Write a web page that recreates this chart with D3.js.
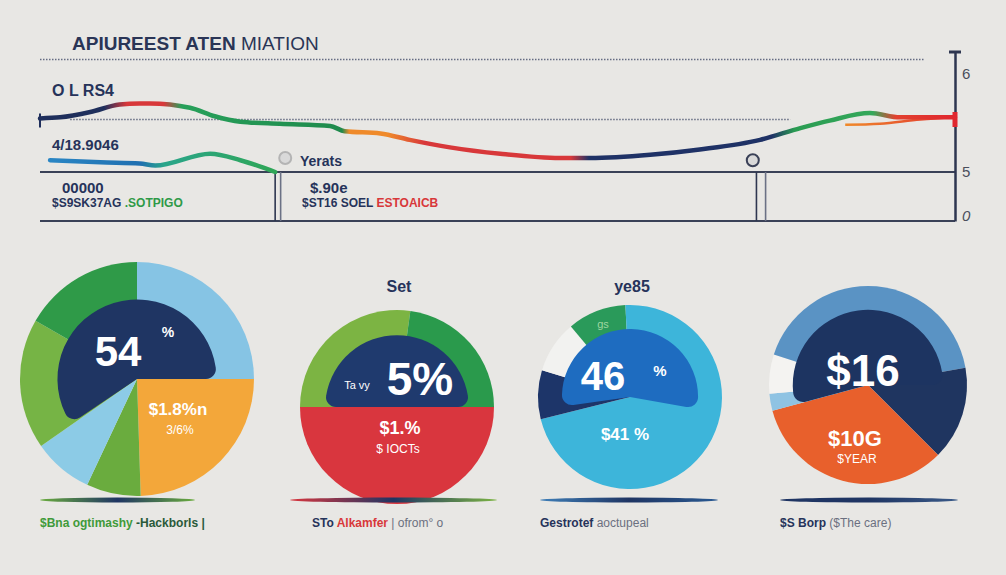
<!DOCTYPE html>
<meta charset='utf-8'>
<style>
    body {
        margin: 0;
        background: #e8e7e4;
    }
    text {
        font-family: 'Liberation Sans', Arial, sans-serif;
    }
</style>
<body>
<div id='container'></div>
<script src='https://cdn.jsdelivr.net/npm/d3@7'></script>
<script>
    // ---- top chart data ----
    const mainX = [ 0, 2.2, 5.5, 8.7, 10.9, 12, 16.4, 19.1, 21.9, 26.2, 31.7, 33.3, 37.2, 40.4, 44.8, 50.3, 56.8, 60.1, 66.7, 72.1, 78.7, 83.1, 86.3, 90.7, 94, 100 ];
    const mainY = [ 5.50, 5.51, 5.56, 5.63, 5.64, 5.64, 5.60, 5.52, 5.47, 5.45, 5.43, 5.38, 5.36, 5.30, 5.23, 5.17, 5.13, 5.13, 5.16, 5.21, 5.30, 5.41, 5.48, 5.55, 5.51, 5.51 ];
    const mainStops = [ 0, 7, 9.5, 13.5, 15.5, 33, 33.8, 38, 42, 58, 60, 80, 82.5, 91, 93.5, 100 ];
    const mainColors = [ '#1f2f5c', '#1f2f5c', '#d8383a', '#d8383a', '#27a05a', '#1f8a4c', '#ef8a2a', '#ef8a2a', '#d8383a', '#d8383a', '#1f3266', '#1f3266', '#2a9c52', '#34a85a', '#e2412f', '#e0272f' ];

    const lowX = [ 1.1, 6.6, 10.9, 12.6, 18.6, 21.9, 25.7 ];
    const lowY = [ 5.11, 5.09, 5.08, 5.06, 5.17, 5.11, 5.0 ];

    const accentX = [ 88, 91.8, 96.2, 100 ];
    const accentY = [ 5.44, 5.45, 5.49, 5.51 ];

    const gridValues = [ 6.05, 5.49 ];
    const gridFrom = [ 0, 3.3 ];
    const gridTo = [ 96.7, 82 ];
    const baseValues = [ 5, 0 ];
    const dividerX = [ 25.7, 26.3, 78.3, 79.3 ];
    const axisTicks = [ 6, 5, 0 ];

    // ---- pie data ----
    const pieValues = [
        [ 25, 24.5, 7.5, 8.3, 18, 16.7 ],
        [ 27.2, 22.8, 50 ],
        [ 71.1, 8.6, 9.2, 10.3, 0.8 ],
        [ 22.2, 15.3, 33.3, 2.8, 6.4, 20 ],
    ];
    const pieColors = [
        [ '#86c4e4', '#f3a73a', '#6aac3e', '#8ccbe6', '#76b445', '#2f9a48' ],
        [ '#7cb443', '#2a9a4c', '#d9363e' ],
        [ '#3db5da', '#1d3569', '#f2f2f0', '#2a9a5a', '#3db5da' ],
        [ '#5a93c4', '#1f3560', '#e8602c', '#8fc3e3', '#f4f3f1', '#5a93c4' ],
    ];
    const pieStartDeg = [ 0, -90, 0, 0 ];
    const blobFromDeg = [ 236, 270, 262, 255 ];
    const blobToDeg = [ 450, 450, 460, 450 ];
    const blobColors = [ '#1f3563', '#1f3a6e', '#1e6cc0', '#1d3461' ];
    const blobShare = [ 0.68, 0.74, 0.74, 0.76 ];

    const pieTitles = [ '', 'Set', 'ye85', '' ];
    const pieBig = [ '54', '5%', '46', '$16' ];
    const pieMid = [ '$1.8%n', '$1.%', '$41 %', '$10G' ];
    const pieLow = [ '3/6%', '$ IOCTs', '', '$YEAR' ];
    const captionParts = [
        [ '$Bna ogtimashy', '-Hackborls |' ],
        [ 'STo', 'Alkamfer', '| ofrom\u00b0 o' ],
        [ 'Gestrotef', 'aoctupeal' ],
        [ '$S Borp', '($The care)' ],
    ];

    const W = 1006, H = 575;
    const navy = '#26335a';

    const svg = d3.select( '#container' )
        .append( 'svg' )
        .attr( 'width', W )
        .attr( 'height', H );

    const defs = svg.append( 'defs' );

    svg.append( 'rect' )
        .attr( 'width', W )
        .attr( 'height', H )
        .attr( 'fill', '#e8e7e4' );

    // ---- scales ----
    const x = d3.scaleLinear()
        .domain( [0, 100] )
        .range( [40, 955] );
    const y = d3.scaleLinear()
        .domain( [0, 5, 6.12] )
        .range( [221, 172, 52] );

    // Title
    const title = svg.append( 'text' )
        .attr( 'x', 72 )
        .attr( 'y', 50 )
        .attr( 'fill', '#2a3556' )
        .style( 'font-size', '19px' )
        .style( 'font-weight', 'bold' );
    title.append( 'tspan' ).text( 'APIUREEST ATEN ' );
    title.append( 'tspan' ).style( 'font-weight', 'normal' ).text( 'MIATION' );

    // Dotted guides
    svg.selectAll( '.grid' )
        .data( gridValues )
        .enter().append( 'line' )
            .attr( 'class', 'grid' )
            .attr( 'x1', ( d, i ) => x( gridFrom[ i ] ) )
            .attr( 'x2', ( d, i ) => x( gridTo[ i ] ) )
            .attr( 'y1', d => y( d ) )
            .attr( 'y2', d => y( d ) )
            .attr( 'stroke', '#3a4463' )
            .attr( 'stroke-width', 1.6 )
            .attr( 'stroke-dasharray', '1.5,1.5' )
            .attr( 'opacity', 0.75 );

    // Base lines
    svg.selectAll( '.base' )
        .data( baseValues )
        .enter().append( 'line' )
            .attr( 'class', 'base' )
            .attr( 'x1', x( 0 ) )
            .attr( 'x2', x( 100 ) )
            .attr( 'y1', d => y( d ) )
            .attr( 'y2', d => y( d ) )
            .attr( 'stroke', '#3a4157' )
            .attr( 'stroke-width', 2 );

    svg.selectAll( '.divider' )
        .data( dividerX )
        .enter().append( 'line' )
            .attr( 'class', 'divider' )
            .attr( 'x1', d => x( d ) )
            .attr( 'x2', d => x( d ) )
            .attr( 'y1', y( 5 ) )
            .attr( 'y2', y( 0 ) )
            .attr( 'stroke', ( d, i ) => i % 2 ? '#6b7185' : '#2e3650' )
            .attr( 'stroke-width', 1.6 );

    // Main line gradient
    const mainGrad = defs.append( 'linearGradient' )
        .attr( 'id', 'mainGrad' )
        .attr( 'gradientUnits', 'userSpaceOnUse' )
        .attr( 'x1', x( 0 ) ).attr( 'x2', x( 100 ) )
        .attr( 'y1', 0 ).attr( 'y2', 0 );
    mainGrad.selectAll( 'stop' )
        .data( mainStops )
        .enter().append( 'stop' )
            .attr( 'offset', d => d / 100 )
            .attr( 'stop-color', ( d, i ) => mainColors[ i ] );

    const lowGrad = defs.append( 'linearGradient' )
        .attr( 'id', 'lowGrad' )
        .attr( 'gradientUnits', 'userSpaceOnUse' )
        .attr( 'x1', x( 1 ) ).attr( 'x2', x( 26 ) )
        .attr( 'y1', 0 ).attr( 'y2', 0 );
    lowGrad.append( 'stop' ).attr( 'offset', 0 ).attr( 'stop-color', '#2a86c4' );
    lowGrad.append( 'stop' ).attr( 'offset', 0.4 ).attr( 'stop-color', '#1f6fb0' );
    lowGrad.append( 'stop' ).attr( 'offset', 0.5 ).attr( 'stop-color', '#2aa58a' );
    lowGrad.append( 'stop' ).attr( 'offset', 1 ).attr( 'stop-color', '#2fa655' );

    const accentGrad = defs.append( 'linearGradient' )
        .attr( 'id', 'accentGrad' )
        .attr( 'gradientUnits', 'userSpaceOnUse' )
        .attr( 'x1', x( 88 ) ).attr( 'x2', x( 100 ) )
        .attr( 'y1', 0 ).attr( 'y2', 0 );
    accentGrad.append( 'stop' ).attr( 'offset', 0 ).attr( 'stop-color', '#f08a2a' );
    accentGrad.append( 'stop' ).attr( 'offset', 1 ).attr( 'stop-color', '#e03030' );

    const line = d3.line()
        .x( d => x( d[0] ) )
        .y( d => y( d[1] ) )
        .curve( d3.curveMonotoneX );

    svg.append( 'path' )
        .datum( d3.zip( accentX, accentY ) )
        .attr( 'd', line )
        .attr( 'fill', 'none' )
        .attr( 'stroke', 'url(#accentGrad)' )
        .attr( 'stroke-width', 2.5 );

    svg.append( 'path' )
        .datum( d3.zip( mainX, mainY ) )
        .attr( 'd', line )
        .attr( 'fill', 'none' )
        .attr( 'stroke', 'url(#mainGrad)' )
        .attr( 'stroke-width', 4.5 )
        .attr( 'stroke-linecap', 'round' );

    svg.append( 'path' )
        .datum( d3.zip( lowX, lowY ) )
        .attr( 'd', line )
        .attr( 'fill', 'none' )
        .attr( 'stroke', 'url(#lowGrad)' )
        .attr( 'stroke-width', 4.5 )
        .attr( 'stroke-linecap', 'round' );

    // Start tick of the main line
    svg.append( 'line' )
        .attr( 'x1', x( 0 ) ).attr( 'x2', x( 0 ) )
        .attr( 'y1', y( mainY[0] ) - 5 ).attr( 'y2', y( mainY[0] ) + 9 )
        .attr( 'stroke', '#1f2f5c' )
        .attr( 'stroke-width', 2 );

    // Right axis
    const axis = svg.append( 'g' )
        .attr( 'transform', `translate( ${x( 100 )}, 0 )` )
        .call( d3.axisRight( y )
            .tickValues( axisTicks )
            .tickFormat( d3.format( 'd' ) )
            .tickSize( 0 )
            .tickPadding( 7 ) );
    axis.select( '.domain' )
        .attr( 'stroke', '#2e3650' )
        .attr( 'stroke-width', 2.5 );
    axis.selectAll( 'text' )
        .attr( 'fill', '#4a4f5c' )
        .style( 'font-size', '15px' )
        .style( 'font-style', ( d ) => d === 0 ? 'italic' : 'normal' )
        .attr( 'dy', ( d ) => d === 0 ? '-0.05em' : d === 6 ? '0.9em' : '0.32em' );
    axis.append( 'line' )
        .attr( 'x1', -6 ).attr( 'x2', 6 )
        .attr( 'y1', y( 6.12 ) ).attr( 'y2', y( 6.12 ) )
        .attr( 'stroke', '#2e3650' )
        .attr( 'stroke-width', 3 );
    axis.append( 'rect' )
        .attr( 'x', -2.5 ).attr( 'width', 5 )
        .attr( 'y', y( 5.56 ) ).attr( 'height', y( 5.42 ) - y( 5.56 ) )
        .attr( 'fill', '#e0272f' );

    // Markers
    const markers = [ [ 26.8, 5.13 ], [ 77.9, 5.11 ] ];
    svg.selectAll( '.marker' )
        .data( markers )
        .enter().append( 'circle' )
            .attr( 'class', 'marker' )
            .attr( 'cx', d => x( d[0] ) )
            .attr( 'cy', d => y( d[1] ) )
            .attr( 'r', 6 )
            .attr( 'fill', '#d9d9d9' )
            .attr( 'stroke', ( d, i ) => i ? '#3a4157' : '#b4b4b4' )
            .attr( 'stroke-width', 2 );

    // Top annotations
    const note = ( tx, ty, size, parts ) => {
        const t = svg.append( 'text' )
            .attr( 'x', tx )
            .attr( 'y', ty )
            .style( 'font-size', size + 'px' )
            .style( 'font-weight', 'bold' );
        parts.forEach( p => t.append( 'tspan' ).attr( 'fill', p[1] ).text( p[0] ) );
    };
    note( 52, 96, 16, [ [ 'O L RS4', navy ] ] );
    note( 52, 150, 15, [ [ '4/18.9046', navy ] ] );
    note( 300, 166, 14, [ [ 'Yerats', navy ] ] );
    note( 62, 193, 15, [ [ '00000', navy ] ] );
    note( 52, 207, 12, [ [ '$S9SK37AG  ', navy ], [ '.SOTPIGO', '#2f9a48' ] ] );
    note( 310, 193, 15, [ [ '$.90e', navy ] ] );
    note( 302, 207, 12, [ [ '$ST16 SOEL    ', navy ], [ 'ESTOAICB', '#d8383a' ] ] );

    // ---- pies ----
    const pieLayout = [
        { cx: 137, cy: 379, r: 117, line: [40, 195], title: 0, cap: 40 },
        { cx: 397, cy: 407, r: 97, line: [290, 497], title: 292, cap: 312 },
        { cx: 630, cy: 397, r: 92, line: [540, 718], title: 292, cap: 540 },
        { cx: 868, cy: 385, r: 99, line: [780, 958], title: 0, cap: 780 },
    ];
    const shadowColors = [
        [ '#6aac3e', '#1f3563', '#6aac3e' ],
        [ '#d9363e', '#1f3563', '#7cb443' ],
        [ '#3f7fb8', '#1f3563', '#2a5a92' ],
        [ '#1f3563', '#1f3563', '#3a5a88' ],
    ];
    const rad = d => d * Math.PI / 180;

    pieLayout.forEach( ( L, i ) => {
        const g = svg.append( 'g' )
            .attr( 'transform', `translate( ${L.cx}, ${L.cy} )` );

        const pie = d3.pie()
            .sort( null )
            .startAngle( rad( pieStartDeg[ i ] ) )
            .endAngle( rad( pieStartDeg[ i ] + 360 ) );
        const arc = d3.arc().innerRadius( 0 ).outerRadius( L.r );

        g.selectAll( '.slice' )
            .data( pie( pieValues[ i ] ) )
            .enter().append( 'path' )
                .attr( 'class', 'slice' )
                .attr( 'd', arc )
                .attr( 'fill', ( d, j ) => pieColors[ i ][ j ] );

        // Dark centre blob
        g.append( 'path' )
            .attr( 'd', d3.arc().innerRadius( 0 ).outerRadius( L.r * blobShare[ i ] ).cornerRadius( 10 )( {
                startAngle: rad( blobFromDeg[ i ] ),
                endAngle: rad( blobToDeg[ i ] ),
            } ) )
            .attr( 'fill', blobColors[ i ] );

        // Soft shadow under the pie
        const sg = defs.append( 'linearGradient' )
            .attr( 'id', 'shadow' + i );
        shadowColors[ i ].forEach( ( c, k ) => sg.append( 'stop' )
            .attr( 'offset', k / 2 )
            .attr( 'stop-color', c ) );
        svg.append( 'ellipse' )
            .attr( 'cx', ( L.line[0] + L.line[1] ) / 2 )
            .attr( 'cy', 500 )
            .attr( 'rx', ( L.line[1] - L.line[0] ) / 2 )
            .attr( 'ry', 2.5 )
            .attr( 'fill', `url(#shadow${i})` );

        if ( pieTitles[ i ] ) {
            svg.append( 'text' )
                .attr( 'x', L.cx + 2 )
                .attr( 'y', L.title )
                .attr( 'text-anchor', 'middle' )
                .attr( 'fill', navy )
                .style( 'font-size', '16px' )
                .style( 'font-weight', 'bold' )
                .text( pieTitles[ i ] );
        }
    } );

    // Labels inside pies
    const inner = ( tx, ty, size, txt, anchor, weight, color ) => {
        svg.append( 'text' )
            .attr( 'x', tx )
            .attr( 'y', ty )
            .attr( 'text-anchor', anchor || 'middle' )
            .attr( 'fill', color || '#fff' )
            .style( 'font-size', size + 'px' )
            .style( 'font-weight', weight || 'bold' )
            .text( txt );
    };
    inner( 118, 366, 42, pieBig[0] );
    inner( 168, 337, 14, '%' );
    inner( 178, 415, 17, pieMid[0] );
    inner( 180, 434, 12, pieLow[0], 'middle', 'normal' );

    inner( 420, 395, 46, pieBig[1] );
    inner( 357, 389, 11, 'Ta vy', 'middle', 'normal' );
    inner( 400, 434, 18, pieMid[1] );
    inner( 398, 453, 12, pieLow[1], 'middle', 'normal' );

    inner( 603, 390, 40, pieBig[2] );
    inner( 660, 376, 15, '%' );
    inner( 603, 328, 11, 'gs', 'middle', 'normal', '#9fd6a0' );
    inner( 625, 440, 17, pieMid[2] );

    inner( 863, 386, 44, pieBig[3] );
    inner( 855, 446, 22, pieMid[3] );
    inner( 857, 463, 12, pieLow[3], 'middle', 'normal' );

    // Captions
    const capColors = [
        [ '#3f9a3a', '#2a5a3a' ],
        [ navy, '#d8383a', '#6b7080' ],
        [ navy, '#6b7080' ],
        [ navy, '#6b7080' ],
    ];
    pieLayout.forEach( ( L, i ) => {
        const t = svg.append( 'text' )
            .attr( 'x', L.cap )
            .attr( 'y', 527 )
            .style( 'font-size', '12px' )
            .style( 'font-weight', 'bold' );
        captionParts[ i ].forEach( ( p, k ) => t.append( 'tspan' )
            .attr( 'fill', capColors[ i ][ k ] )
            .style( 'font-weight', k === captionParts[ i ].length - 1 && i > 0 ? 'normal' : 'bold' )
            .text( ( k ? ' ' : '' ) + p ) );
    } );
</script>
</body>
